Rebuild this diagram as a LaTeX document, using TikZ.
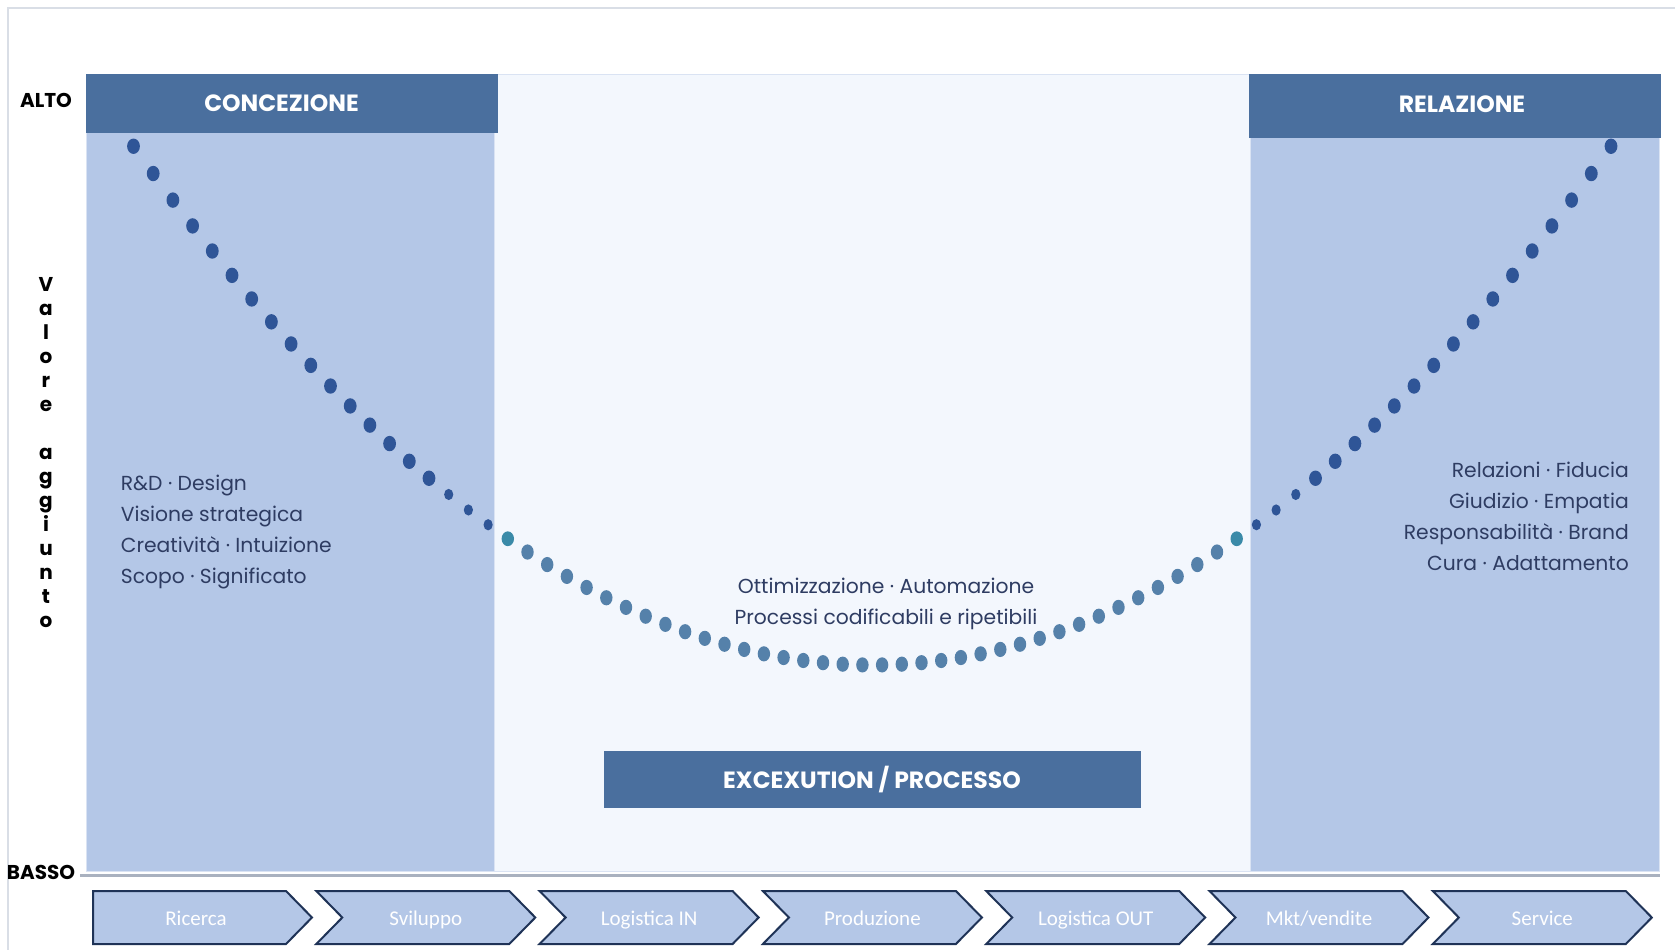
\documentclass[tikz,border=0pt]{standalone}
\usepackage{fontspec}
\setmainfont{Poppins}
\newfontfamily\stepfont{Carlito}
\definecolor{panelblu}{HTML}{B4C7E7}
\definecolor{headblu}{HTML}{4A6F9E}
\definecolor{midfill}{HTML}{F3F7FD}
\definecolor{midline}{HTML}{DAE3F3}
\definecolor{inkblu}{HTML}{2E3C62}
\definecolor{dotdark}{HTML}{2F5597}
\definecolor{dotmid}{HTML}{5581AA}
\definecolor{dotteal}{HTML}{3A8AA8}
\definecolor{stepline}{HTML}{1F3357}
\definecolor{framegray}{HTML}{D9DEE6}
\definecolor{basegray}{HTML}{A9B1BF}

\begin{document}
\begin{tikzpicture}[x=1pt, y=-1pt,
		headtext/.style={text=white, font=\fontsize{23.5}{27}\selectfont\bfseries},
		axistext/.style={text=black, font=\fontsize{20}{24}\selectfont\bfseries, inner sep=0pt},
		bodytext/.style={text=inkblu, font=\fontsize{20.3}{31}\selectfont, inner sep=0pt},
		steptext/.style={text=white, font=\stepfont\fontsize{21}{24}\selectfont, anchor=base},
		stepbox/.style={fill=panelblu, draw=stepline, line width=2pt, line join=miter},
		bigdot/.style={fill=dotdark, x radius=6.4, y radius=7.7},
		smalldot/.style={fill=dotdark, x radius=4.6, y radius=5.6},
		tealdot/.style={fill=dotteal, x radius=6.2, y radius=7.4},
		middot/.style={fill=dotmid, x radius=6.2, y radius=7.6}]
	\useasboundingbox (0,0) rectangle (1675,950);
	\fill[white] (0,0) rectangle (1675,950);
	\draw[framegray, line width=1.2pt] (1675,8) -- (8,8) -- (8,950);

	% the three bands
	\fill[midfill, draw=midline] (494,74) rectangle (1250,871);
	\fill[panelblu, draw=midline] (86,74) rectangle (494,871);
	\fill[panelblu, draw=midline] (1250,74) rectangle (1659,871);
	\draw[basegray, line width=3pt] (80,875) -- (1660,875);

	% headers
	\fill[headblu] (86,74) rectangle (498,133);
	\fill[headblu] (1249,74) rectangle (1661,137.5);
	\fill[headblu] (603.5,751) rectangle (1141,807.5);
	\node[headtext] (concezione) at (281.5,103.5) {CONCEZIONE};
	\node[headtext] (relazione) at (1462,104) {RELAZIONE};
	\node[headtext] (processo) at (872,780) {EXCEXUTION / PROCESSO};

	% axis
	\node[axistext] (alto) at (46,100) {ALTO};
	\node[axistext] (basso) at (41,872) {BASSO};
	\node[axistext, align=center, anchor=north] (valore) at (46,277)
		{V\\a\\l\\o\\r\\e\\~\\a\\g\\g\\i\\u\\n\\t\\o};

	% the smile curve
	\foreach \i in {0,...,75}{
		\pgfmathsetmacro\dx{133.5+19.7*\i}
		\pgfmathsetmacro\dy{665-0.3689*(\i-37.5)^2}
		\ifnum\i<16 \def\dotkind{bigdot}\else
		\ifnum\i<19 \def\dotkind{smalldot}\else
		\ifnum\i=19 \def\dotkind{tealdot}\else
		\ifnum\i<56 \def\dotkind{middot}\else
		\ifnum\i=56 \def\dotkind{tealdot}\else
		\ifnum\i<60 \def\dotkind{smalldot}\else
		\def\dotkind{bigdot}\fi\fi\fi\fi\fi\fi
		\fill[\dotkind] (\dx,\dy) ellipse;
	}

	% texts
	\node[bodytext, align=left, anchor=west] (ideas) at (120.7,532.2)
		{R\&D · Design\\Visione strategica\\Creatività · Intuizione\\Scopo · Significato};
	\node[bodytext, align=center] (ops) at (886,603.8)
		{Ottimizzazione · Automazione\\Processi codificabili e ripetibili};
	\node[bodytext, align=right, anchor=east] (bonds) at (1629,516.5)
		{Relazioni · Fiducia\\Giudizio · Empatia\\Responsabilità · Brand\\Cura · Adattamento};

	% value chain
	\foreach \name [count=\n from 0] in {Ricerca,Sviluppo,Logistica IN,Produzione,Logistica OUT,Mkt/vendite,Service}{
		\pgfmathsetmacro\sx{93+223.3*\n}
		\pgfmathsetmacro\tx{\sx+219}
		\ifnum\n=0
			\draw[stepbox] (\sx,891) -- (\tx-26,891) -- (\tx,917.5) -- (\tx-26,944) -- (\sx,944) -- cycle;
			\node[steptext] (step\n) at (\sx+103,925) {\name};
		\else
			\draw[stepbox] (\sx,891) -- (\tx-26,891) -- (\tx,917.5) -- (\tx-26,944) -- (\sx,944) -- (\sx+26,917.5) -- cycle;
			\node[steptext] (step\n) at (\sx+109.5,925) {\name};
		\fi
	}
\end{tikzpicture}
\end{document}
